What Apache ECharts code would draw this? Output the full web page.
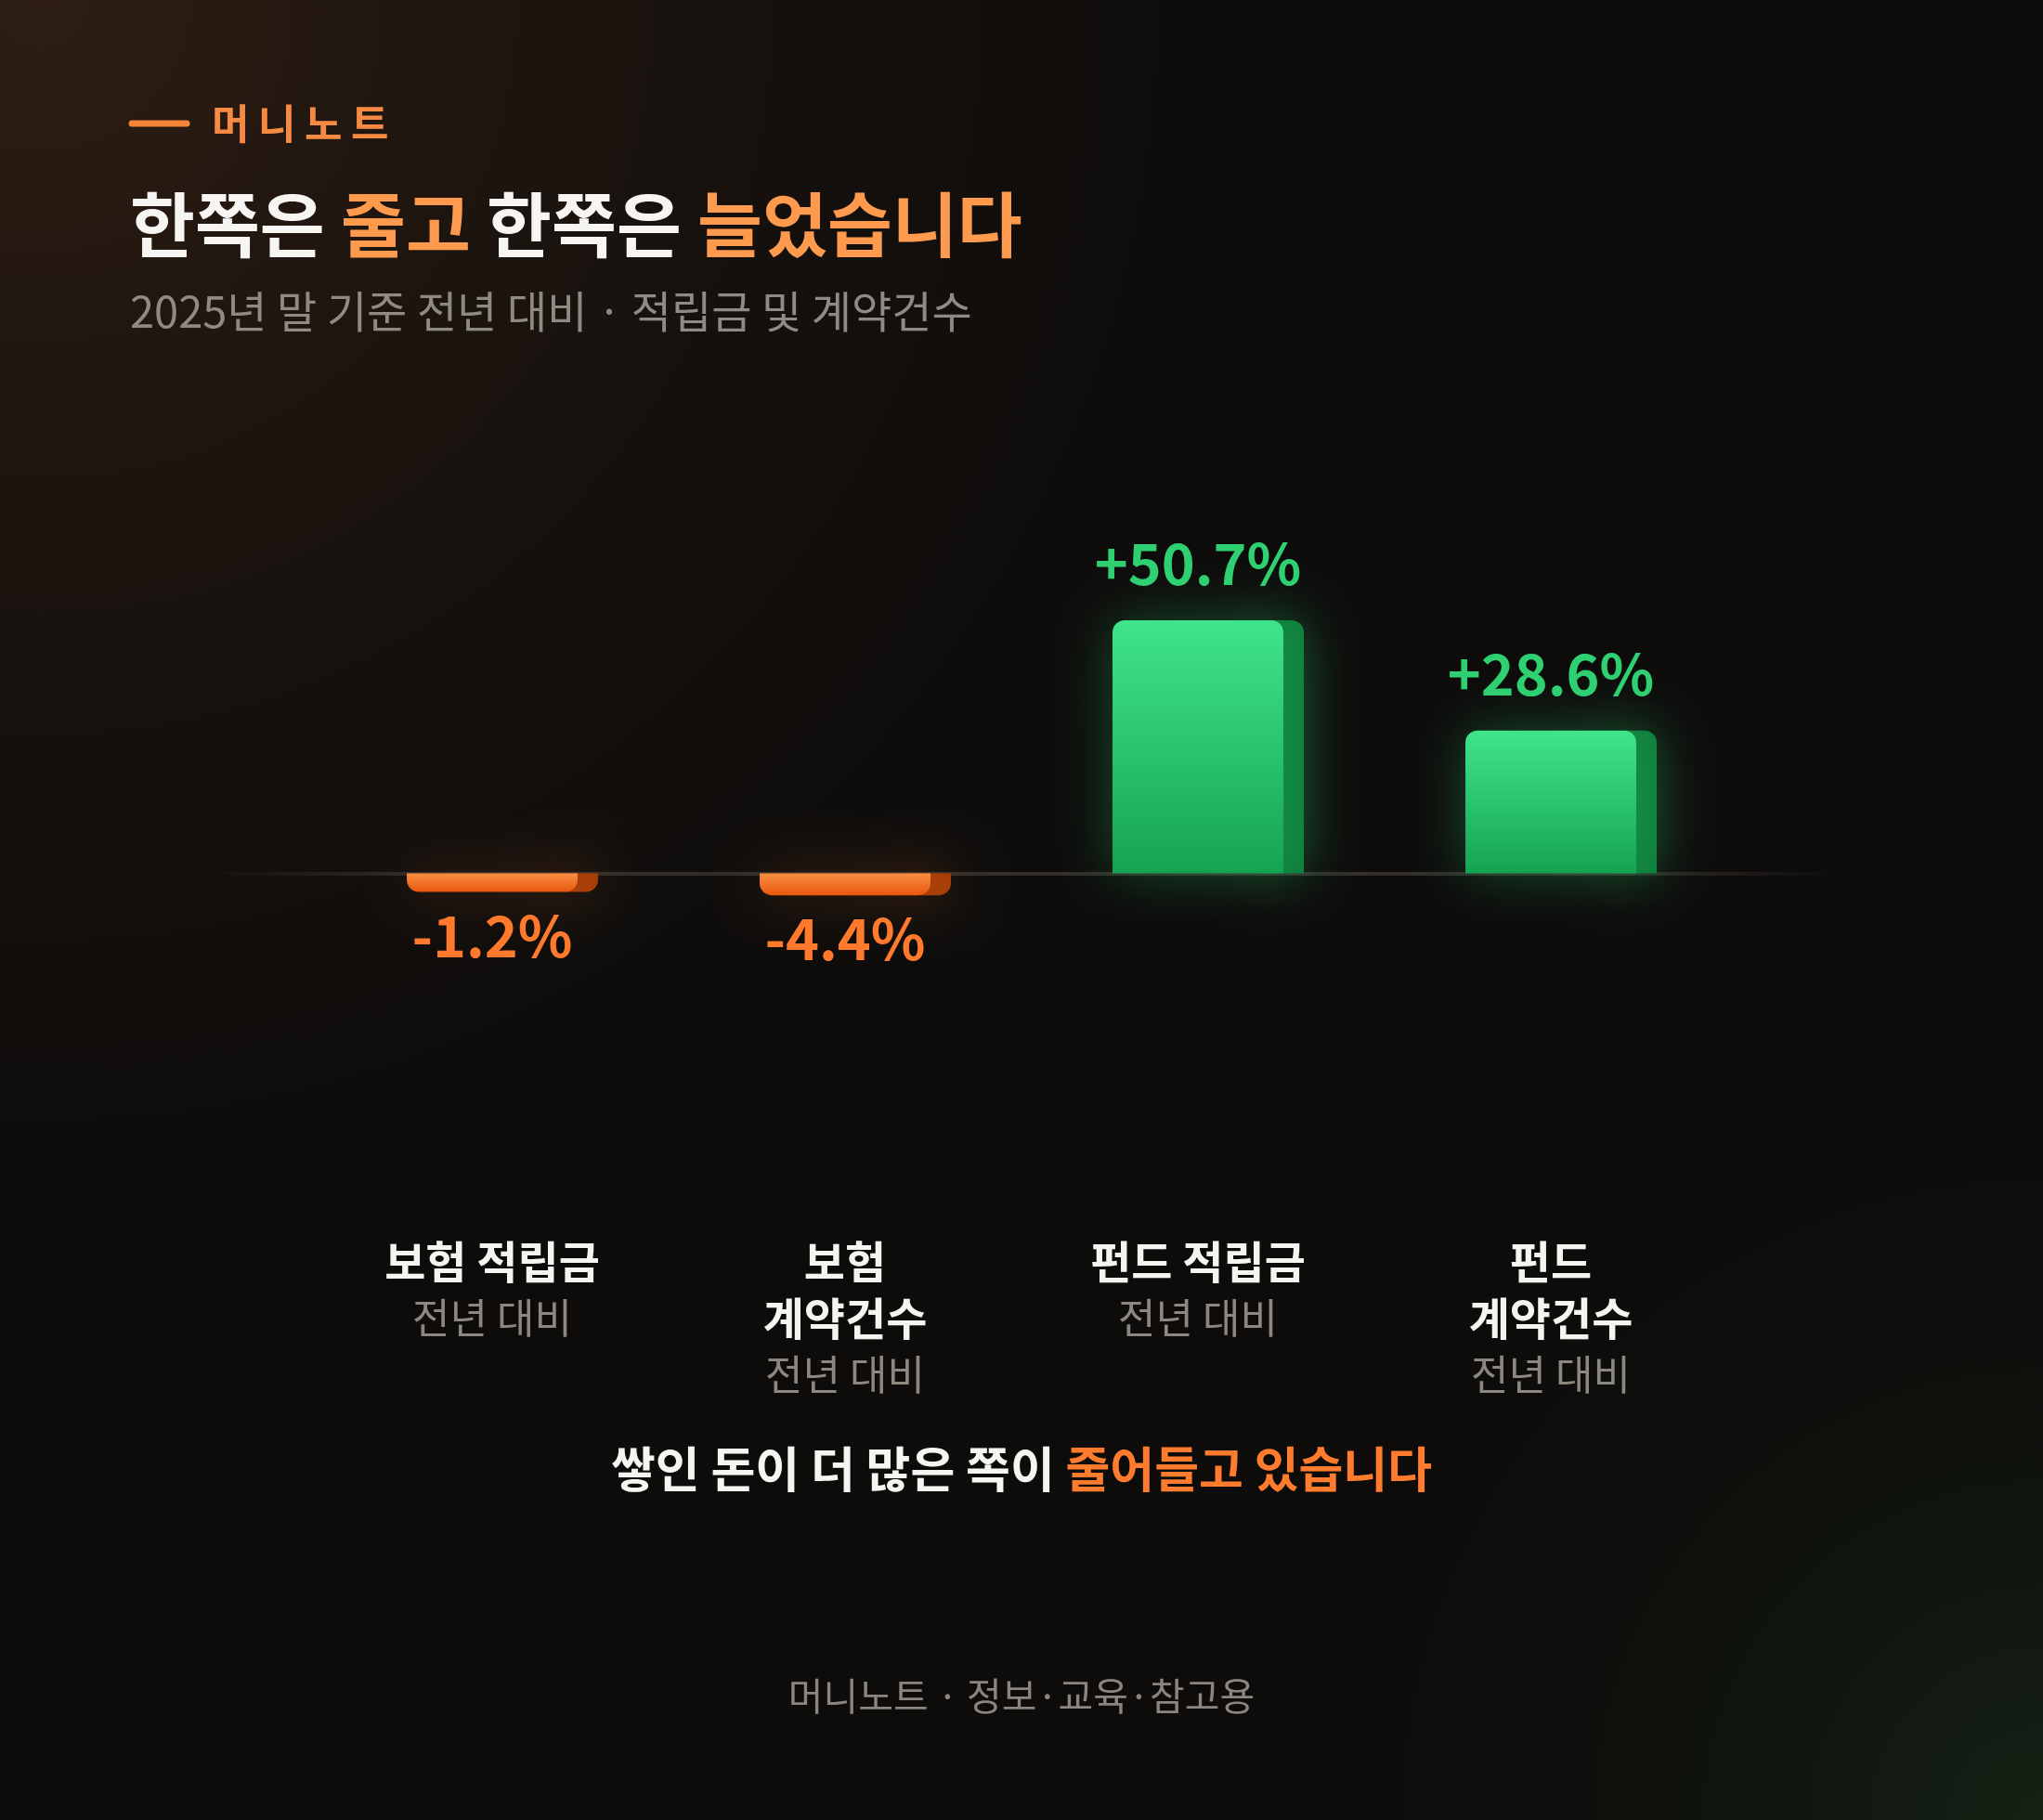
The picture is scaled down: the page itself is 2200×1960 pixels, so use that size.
<!DOCTYPE html>
<html><head><meta charset="utf-8">
<script src="https://cdn.jsdelivr.net/npm/echarts@6/dist/echarts.min.js"></script>
<style>html,body{margin:0;padding:0;background:#0d0c0b}#c{width:2200px;height:1960px}</style>
</head><body><div id="c"></div>
<script>
// ---- data ----
const categories = ['보험 적립금', '보험\n계약건수', '펀드 적립금', '펀드\n계약건수'];
const subLabel = '전년 대비';
const values = [-1.2, -4.4, 50.7, 28.6];
const yMin = -20, yMax = 60, yInterval = 20;

const FONT = '"Noto Sans CJK KR", "Noto Sans", sans-serif';
const G = echarts.graphic;

function fmt(v) { return (v > 0 ? '+' : '') + v.toFixed(1) + '%'; }

const chart = echarts.init(document.getElementById('c'), null, {renderer: 'canvas', width: 2200, height: 1960});

function renderItem(params, api) {
  const i = api.value(0), v = api.value(1);
  const base = api.coord([i, 0]);
  const tip = api.coord([i, v]);
  const band = api.size([1, 0])[0];
  const fw = band * 0.484, sw = band * 0.058;
  const x0 = base[0] - fw / 2;
  const pos = v >= 0;
  let h = Math.abs(base[1] - tip[1]);
  if (h < 20) h = 20;
  const r = 13;
  const children = [];
  if (pos) {
    const yTop = base[1] - h;
    children.push({type: 'rect', shape: {x: x0 + fw - 24, y: yTop, width: sw + 24, height: h, r: [r, r, 0, 0]},
      style: {fill: '#0f7d3c', shadowBlur: 60, shadowColor: 'rgba(40,210,110,0.32)'}});
    children.push({type: 'rect', shape: {x: x0, y: yTop, width: fw, height: h, r: [r, r, 0, 0]},
      style: {fill: new G.LinearGradient(0, 0, 0, 1, [{offset: 0, color: '#40e58b'}, {offset: 1, color: '#15a352'}]),
        shadowBlur: 60, shadowColor: 'rgba(40,210,110,0.32)'}});
    children.push({type: 'text', style: {text: fmt(v), x: base[0], y: yTop - 61, align: 'center', verticalAlign: 'middle',
      fill: '#2fd071', fontSize: 61, fontWeight: 'bold', fontFamily: FONT}});
  } else {
    const yb = base[1];
    children.push({type: 'rect', shape: {x: x0 + fw - 24, y: yb, width: sw + 24, height: h, r: [0, 0, r, r]},
      style: {fill: '#a63d08', shadowBlur: 60, shadowColor: 'rgba(255,120,40,0.25)'}});
    children.push({type: 'rect', shape: {x: x0, y: yb, width: fw, height: h, r: [0, 0, r, r]},
      style: {fill: new G.LinearGradient(0, 0, 0, 1, [{offset: 0, color: '#f88e42'}, {offset: 1, color: '#e9570e'}]),
        shadowBlur: 60, shadowColor: 'rgba(255,120,40,0.25)'}});
    children.push({type: 'text', style: {text: fmt(v), x: base[0], y: yb + h + 47, align: 'center', verticalAlign: 'middle',
      fill: '#ff7a2c', fontSize: 61, fontWeight: 'bold', fontFamily: FONT}});
  }
  return {type: 'group', children};
}

const option = {
  backgroundColor: '#0d0c0b',
  animation: false,
  grid: [
    {left: 340, right: 340, top: 618, bottom: 912},
    {left: 220, right: 217, top: 618, bottom: 912}
  ],
  xAxis: [
    {type: 'category', gridIndex: 0, data: categories, position: 'bottom',
      axisLine: {show: false}, axisTick: {show: false}, splitLine: {show: false},
      axisLabel: {margin: 280, interval: 0, verticalAlign: 'top',
        formatter: (val) => val.split('\n').map(s => '{b|' + s + '}').join('\n') + '\n{g|' + subLabel + '}',
        rich: {
          b: {fontSize: 48, fontWeight: 'bold', color: '#f6f4f1', fontFamily: FONT, lineHeight: 61, align: 'center'},
          g: {fontSize: 44, color: '#8c877f', fontFamily: FONT, lineHeight: 61, align: 'center'}
        }}},
    {type: 'value', gridIndex: 1, min: 0, max: 1, axisTick: {show: false}, axisLabel: {show: false}, splitLine: {show: false},
      axisLine: {show: true, onZero: true, lineStyle: {width: 4,
        color: new G.LinearGradient(0, 0, 1, 0, [
          {offset: 0, color: 'rgba(50,45,41,0)'}, {offset: 0.14, color: 'rgba(50,45,41,1)'},
          {offset: 0.86, color: 'rgba(50,45,41,1)'}, {offset: 1, color: 'rgba(50,45,41,0)'}])}}}
  ],
  yAxis: [
    {type: 'value', gridIndex: 0, min: yMin, max: yMax, interval: yInterval, show: false},
    {type: 'value', gridIndex: 1, min: yMin, max: yMax, interval: yInterval, show: false,
      axisLine: {show: false}, splitLine: {show: false}}
  ],
  graphic: [
    {type: 'rect', z: -10, silent: true, shape: {x: 0, y: 0, width: 2200, height: 1960},
      style: {fill: new G.RadialGradient(0.02, 0.0, 0.8, [{offset: 0, color: 'rgba(46,30,19,1)'}, {offset: 0.45, color: 'rgba(30,21,15,0.65)'}, {offset: 1, color: 'rgba(13,12,11,0)'}])}},
    {type: 'rect', z: -10, silent: true, shape: {x: 0, y: 0, width: 2200, height: 1960},
      style: {fill: new G.RadialGradient(1, 1, 0.45, [{offset: 0, color: 'rgba(22,36,22,0.9)'}, {offset: 1, color: 'rgba(13,12,11,0)'}])}},
    {type: 'line', shape: {x1: 142, y1: 133, x2: 201, y2: 133}, style: {stroke: '#f5843a', lineWidth: 7, lineCap: 'round'}},
    {type: 'text', x: 228, y: 133, style: {text: '{c|머}{c|니}{c|노}{c|트}', verticalAlign: 'middle',
      rich: {c: {fontSize: 44, fontWeight: 'bold', fill: '#f78a42', fontFamily: FONT, width: 50, align: 'left'}}}},
    {type: 'text', x: 140, y: 242, style: {text: '{w|한쪽은 }{o|줄고}{w| 한쪽은 }{o|늘었습니다}', verticalAlign: 'middle',
      rich: {w: {fontSize: 76, fontWeight: 'bold', fill: '#f7f5f2', fontFamily: FONT},
             o: {fontSize: 76, fontWeight: 'bold', fill: '#fd9a4e', fontFamily: FONT}}}},
    {type: 'text', x: 140, y: 335, style: {text: '2025년 말 기준 전년 대비 · 적립금 및 계약건수', verticalAlign: 'middle',
      fontSize: 47, fill: '#8f8a83', fontFamily: FONT}},
    {type: 'text', x: 1100, y: 1582, style: {text: '{w|쌓인 돈이 더 많은 쪽이 }{o|줄어들고 있습니다}', align: 'center', verticalAlign: 'middle',
      rich: {w: {fontSize: 52, fontWeight: 'bold', fill: '#f7f5f2', fontFamily: FONT},
             o: {fontSize: 52, fontWeight: 'bold', fill: '#ff7b2e', fontFamily: FONT}}}},
    {type: 'text', x: 1100, y: 1826, style: {text: '머니노트 · 정보·교육·참고용', align: 'center', verticalAlign: 'middle',
      fontSize: 41, fill: '#8a857e', fontFamily: FONT}}
  ],
  series: [{
    type: 'custom', xAxisIndex: 0, yAxisIndex: 0, renderItem,
    encode: {x: 0, y: 1},
    data: values.map((v, i) => [i, v]),
    z: 3
  }]
};
chart.setOption(option);
</script></body></html>
